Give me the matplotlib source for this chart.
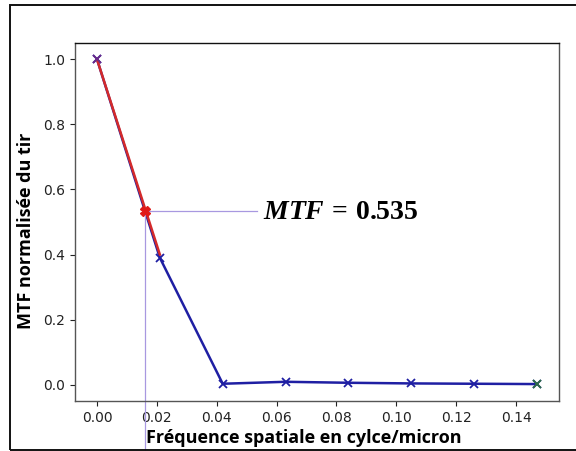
import matplotlib.pyplot as plt
from matplotlib.patches import Rectangle

# spatial frequencies (cycle/micron) and normalised MTF of the shot
freq = [0.0, 0.021, 0.042, 0.063, 0.084, 0.105, 0.126, 0.147]
mtf = [1.0, 0.39, 0.003, 0.009, 0.006, 0.004, 0.003, 0.002]

# interpolated point where MTF = 0.535
mtf_cut = 0.535
freq_cut = freq[1] * (mtf[0] - mtf_cut) / (mtf[0] - mtf[1])

plt.rcParams['mathtext.fontset'] = 'custom'
plt.rcParams['mathtext.it'] = 'Liberation Serif:italic:bold'
plt.rcParams['mathtext.rm'] = 'Liberation Serif:bold'

fig = plt.figure(figsize=(5.76, 4.51), dpi=100)
ax = fig.add_axes([75 / 576, 1 - 401 / 451, 484 / 576, 358 / 451])

# main curve
ax.plot(freq, mtf, color='#1f1fa3', lw=1.8, marker='x', ms=6, mew=1.3)
ax.plot(freq[-1], mtf[-1], color='#2e6e45', marker='x', ms=6, mew=1.3, ls='none')

# guide lines to the cut point
ax.plot([freq_cut, 0.0535], [mtf_cut, mtf_cut], color='#a898e0', lw=0.9)
ax.plot([freq_cut, freq_cut], [mtf_cut, -0.2], color='#a898e0', lw=0.9, clip_on=False)

# red interpolation segment
ax.plot(freq[:2], [mtf[0], mtf[1] + 0.01], color='#d42a2a', lw=1.8)
ax.plot(freq[0], mtf[0], color='#6a2a8a', marker='x', ms=6, mew=1.3)
ax.plot(freq_cut, mtf_cut, color='#e01818', marker='X', ms=7, mec='#e01818')

ax.text(0.0555, mtf_cut, r'$MTF\,=\,0.535$', fontsize=20, va='center', ha='left')

ax.set_xlim(-0.00735, 0.15435)
ax.set_ylim(-0.05, 1.05)
ax.set_xticks([0.0, 0.02, 0.04, 0.06, 0.08, 0.10, 0.12, 0.14])
ax.set_xticklabels(['0.00', '0.02', '0.04', '0.06', '0.08', '0.10', '0.12', '0.14'])
ax.set_yticks([0.0, 0.2, 0.4, 0.6, 0.8, 1.0])
ax.tick_params(labelsize=10, colors='#222222')
for s in ax.spines.values():
    s.set_color('#555555')
    s.set_linewidth(1.0)
ax.spines['top'].set_color('#111111')

ax.set_xlabel('Fréquence spatiale en cylce/micron', fontsize=13,
              fontweight='bold', family='Open Sans')
ax.set_ylabel('MTF normalisée du tir', fontsize=13,
              fontweight='bold', family='Open Sans')
ax.xaxis.set_label_coords(0.472, -0.078)
ax.yaxis.set_label_coords(-0.083, 0.475)

# outer frame
fig.patches.append(Rectangle((10 / 576, 1 / 451), 1.2, 445 / 451,
                             transform=fig.transFigure, fill=False,
                             edgecolor='#111111', lw=1.4))

fig.savefig('out.png', dpi=100)
